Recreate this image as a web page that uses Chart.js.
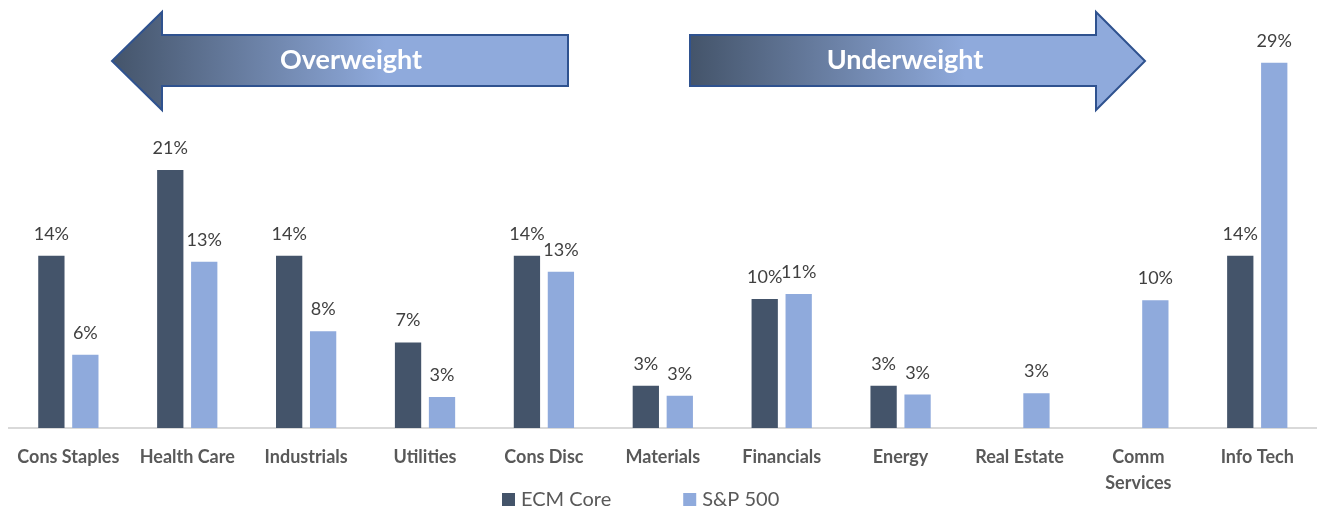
<!DOCTYPE html>
<html>
<head>
<meta charset="utf-8">
<script src="https://cdn.jsdelivr.net/npm/chart.js@4"></script>
<style>
  html, body { margin: 0; padding: 0; background: #fff; }
  #wrap { width: 1320px; height: 509px; position: relative; }
</style>
</head>
<body>
<div id="wrap"><canvas id="canva1"></canvas></div>
<script>
const Sectors = ['Cons Staples', 'Health Care', 'Industrials', 'Utilities', 'Cons Disc', 'Materials', 'Financials', 'Energy', 'Real Estate', ['Comm', 'Services'], 'Info Tech'];
const ecmCore = [13.9, 20.8, 13.9, 6.9, 13.9, 3.4, 10.4, 3.4, null, null, 13.9];
const sp500 = [5.9, 13.4, 7.8, 2.5, 12.6, 2.6, 10.8, 2.7, 2.8, 10.3, 29.45];
const seriesNames = ['ECM Core', 'S&P 500'];
const yTicks = [0, 30];

// colours
const darkBar = '#44546a';
const lightBar = '#8faadc';
const labelColor = '#595959';
const valueColor = '#404040';
const fontFamily = 'Lato, "Open Sans", sans-serif';

var ctx1 = document.getElementById('canva1').getContext('2d');

// value labels above the bars
const valueLabels = {
    id: 'valueLabels',
    afterDatasetsDraw(chart) {
        const c = chart.ctx;
        c.save();
        c.font = '18px ' + fontFamily;
        c.fillStyle = valueColor;
        c.textAlign = 'center';
        c.textBaseline = 'alphabetic';
        chart.data.datasets.forEach((ds, i) => {
            chart.getDatasetMeta(i).data.forEach((bar, j) => {
                const v = ds.data[j];
                if (v == null) return;
                c.fillText(Math.round(v) + '%', bar.x, bar.y - 16);
            });
        });
        c.restore();
    }
};

// the two big arrows on top
const arrows = {
    id: 'arrows',
    afterDraw(chart) {
        const c = chart.ctx;
        const drawArrow = (pts, gx0, gx1, text, tx) => {
            const g = c.createLinearGradient(gx0, 0, gx1, 0);
            g.addColorStop(0, darkBar);
            g.addColorStop(1, lightBar);
            c.beginPath();
            pts.forEach((p, i) => i ? c.lineTo(p[0], p[1]) : c.moveTo(p[0], p[1]));
            c.closePath();
            c.fillStyle = g;
            c.fill();
            c.lineWidth = 2;
            c.strokeStyle = '#2f528f';
            c.stroke();
            c.fillStyle = '#ffffff';
            c.font = 'bold 27px ' + fontFamily;
            c.textAlign = 'center';
            c.textBaseline = 'middle';
            c.fillText(text, tx, 60);
        };
        c.save();
        drawArrow([[112, 61], [162, 12], [162, 35], [568, 35], [568, 86], [162, 86], [162, 110]],
            112, 385, 'Overweight', 351);
        drawArrow([[690, 35], [1096, 35], [1096, 12], [1145, 61], [1096, 110], [1096, 86], [690, 86]],
            690, 965, 'Underweight', 905);
        c.restore();
    }
};

// legend at the bottom
const bottomLegend = {
    id: 'bottomLegend',
    afterDraw(chart) {
        const c = chart.ctx;
        c.save();
        c.font = '20px ' + fontFamily;
        c.textBaseline = 'middle';
        c.textAlign = 'left';
        let x = 502;
        chart.data.datasets.forEach(ds => {
            c.fillStyle = ds.backgroundColor;
            c.fillRect(x, 493, 13, 13);
            c.fillStyle = labelColor;
            c.fillText(ds.label, x + 19, 500);
            x += 19 + c.measureText(ds.label).width + 72;
        });
        c.restore();
    }
};

const data = {
    labels: Sectors,
    datasets: [{
        label: seriesNames[0],
        data: ecmCore,
        backgroundColor: darkBar,
        categoryPercentage: 0.5714,
        barPercentage: 0.774,
    }, {
        label: seriesNames[1],
        data: sp500,
        backgroundColor: lightBar,
        categoryPercentage: 0.5714,
        barPercentage: 0.774,
    }]
};

const config = {
    type: 'bar',
    data: data,
    options: {
        responsive: true,
        maintainAspectRatio: false,
        animation: false,
        layout: {
            padding: { top: 56, left: 7.7, right: 3.3, bottom: 0 }
        },
        scales: {
            x: {
                grid: { display: false, drawTicks: false },
                border: { display: true, color: '#d9d9d9', width: 2 },
                ticks: {
                    color: labelColor,
                    padding: 17,
                    maxRotation: 0,
                    autoSkip: false,
                    font: { family: fontFamily, size: 18, weight: 'bold', lineHeight: 1.4 }
                },
                afterFit: s => { s.height = 81; }
            },
            y: {
                display: false,
                min: yTicks[0],
                max: yTicks[1]
            }
        },
        plugins: {
            legend: { display: false },
            tooltip: { enabled: false }
        }
    },
    plugins: [valueLabels, arrows, bottomLegend]
};

window.onload = () => {
    new Chart(ctx1, config);
};
</script>
</body>
</html>
